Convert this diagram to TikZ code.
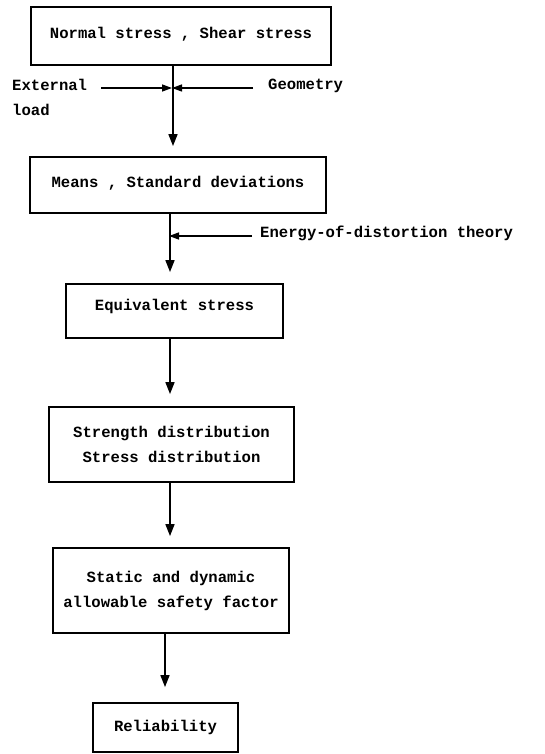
\documentclass[tikz,border=0pt]{standalone}
\usepackage{fontspec}
\setmainfont{Liberation Mono}
\usetikzlibrary{arrows.meta}
\begin{document}
\begin{tikzpicture}[x=1pt,y=-1pt,
  txt/.style={font=\fontsize{15.6}{25}\selectfont\bfseries},
  box/.style={txt,draw,line width=1.8pt,inner sep=0pt,align=center},
  lbl/.style={txt,inner sep=0pt,align=left},
  arr/.style={line width=1.5pt,-{Triangle[length=12pt,width=9pt]}},
  sarr/.style={line width=1.3pt,-{Triangle[length=10pt,width=7pt]}}]
\useasboundingbox (0,0) rectangle (544,754);
\node[box,minimum width=300pt,minimum height=58pt,text height=11pt,text depth=6pt] (b1) at (181,36) {Normal stress , Shear stress};
\node[box,minimum width=296pt,minimum height=56pt,text height=11pt,text depth=6pt] (b2) at (178,185) {Means , Standard deviations};
\node[box,minimum width=217pt,minimum height=54pt,text height=11pt,text depth=12pt] (b3) at (174.5,311) {Equivalent stress};
\node[box,minimum width=245pt,minimum height=75pt] (b4) at (171.5,444.5) {Strength distribution\\Stress distribution};
\node[box,minimum width=236pt,minimum height=85pt] (b5) at (171,590.5) {Static and dynamic\\allowable safety factor};
\node[box,minimum width=145pt,minimum height=49pt] (b6) at (165.5,727.5) {Reliability};
\node[lbl,anchor=west] (ext) at (12,97) {External\\load};
\node[lbl,anchor=west] (geo) at (268,86) {Geometry};
\node[lbl,anchor=west] (edt) at (260,233) {Energy-of-distortion theory};
\coordinate (j1) at (173,88);
\coordinate (j2) at (170,236);
\coordinate (j5) at (165,0);
\draw[arr,shorten >=10pt] (b1.south -| j1) -- (b2.north -| j1);
\draw[sarr,shorten <=14pt,shorten >=1pt] (ext.east |- j1) -- (j1);
\draw[sarr,shorten <=15pt,shorten >=-1pt] (geo.west |- j1) -- (j1);
\draw[arr,shorten >=11pt] (b2.south -| j2) -- (b3.north -| j2);
\draw[sarr,shorten <=8pt,shorten >=-1pt] (edt.west |- j2) -- (j2);
\draw[arr,shorten >=12pt] (b3.south -| j2) -- (b4.north -| j2);
\draw[arr,shorten >=11pt] (b4.south -| j2) -- (b5.north -| j2);
\draw[arr,shorten >=15pt] (b5.south -| j5) -- (b6.north -| j5);
\end{tikzpicture}
\end{document}
